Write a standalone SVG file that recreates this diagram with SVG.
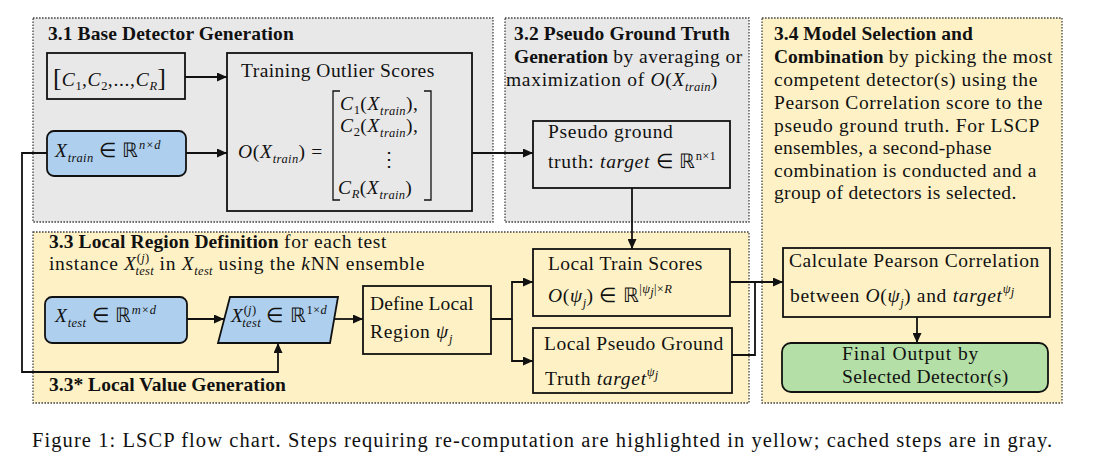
<svg xmlns="http://www.w3.org/2000/svg" width="1102" height="465" viewBox="0 0 1102 465" font-family="'Liberation Serif', 'Times New Roman', serif">
<style>
text{font-family:'Liberation Serif','Times New Roman',serif;font-size:19.5px;letter-spacing:0.7px;fill:#111}
.b{font-weight:bold;letter-spacing:0.2px}
.i{font-style:italic}
.s{font-size:12.5px;font-style:italic;letter-spacing:0.3px}
.sn{font-size:12.5px;letter-spacing:0.3px}
.grp{stroke:#444;stroke-width:1.3;stroke-dasharray:1.6 1.4}
.gray{fill:#e8e8e8}
.yel{fill:#fef1c6}
.node{stroke:#111;stroke-width:1.8}
.blue{fill:#aed0ee}
.green{fill:#b4dfa6}
.conn{fill:none;stroke:#111;stroke-width:1.8}
.brk{fill:none;stroke:#111;stroke-width:1.3}
.cap{font-size:20.5px;letter-spacing:0px}
</style>
<defs>
<marker id="arr" markerUnits="userSpaceOnUse" markerWidth="11" markerHeight="9" refX="10" refY="4.5" orient="auto">
<path d="M0,0 L10,4.5 L0,9 z" fill="#111"/>
</marker>
</defs>
<rect width="1102" height="465" fill="#ffffff"/>

<g id="regions">
<rect id="r31" class="grp gray" x="33" y="18" width="460" height="204"/>
<rect id="r32" class="grp gray" x="505" y="18" width="244" height="204"/>
<rect id="r34" class="grp yel" x="762" y="18" width="300" height="385"/>
<rect id="r33" class="grp yel" x="33" y="232" width="716" height="171"/>
</g>

<g id="region-labels">
<text x="48" y="40" class="b" textLength="246">3.1 Base Detector Generation</text>
<text x="514" y="40" class="b" textLength="216">3.2 Pseudo Ground Truth</text>
<text x="514" y="63" textLength="229"><tspan class="b">Generation</tspan> by averaging or</text>
<text x="506" y="86">maximization of <tspan class="i">O</tspan>(<tspan class="i">X</tspan><tspan class="s" dy="5">train</tspan><tspan dy="-5">)</tspan></text>
<text x="774" y="40" class="b" textLength="199">3.4 Model Selection and</text>
<text x="774" y="63" textLength="279"><tspan class="b">Combination</tspan> by picking the most</text>
<text x="774" y="86" textLength="264">competent detector(s) using the</text>
<text x="774" y="109" textLength="269">Pearson Correlation score to the</text>
<text x="774" y="132" textLength="266">pseudo ground truth. For LSCP</text>
<text x="774" y="154" textLength="218">ensembles, a second-phase</text>
<text x="774" y="177" textLength="263">combination is conducted and a</text>
<text x="774" y="199" textLength="243">group of detectors is selected.</text>
<text x="49" y="248" textLength="338"><tspan class="b">3.3 Local Region Definition</tspan> for each test</text>
<text x="49" y="270">instance <tspan class="i">X</tspan><tspan class="sn" dy="-8">(<tspan class="i">j</tspan>)</tspan><tspan class="s" dx="-14" dy="13">test</tspan><tspan dy="-5"> in </tspan><tspan class="i">X</tspan><tspan class="s" dy="5">test</tspan><tspan dy="-5"> using the </tspan><tspan class="i">k</tspan>NN ensemble</text>
<text x="49" y="391" class="b" textLength="237">3.3* Local Value Generation</text>
</g>

<g id="connectors">
<path class="conn" d="M185,77 H227" marker-end="url(#arr)"/>
<path class="conn" d="M186,153 H227" marker-end="url(#arr)"/>
<path class="conn" d="M472,153 H533" marker-end="url(#arr)"/>
<path class="conn" d="M632,188 V249" marker-end="url(#arr)"/>
<path class="conn" d="M47,153 H22 V372 H278 V343" marker-end="url(#arr)"/>
<path class="conn" d="M187,319 H224" marker-end="url(#arr)"/>
<path class="conn" d="M334,319 H363" marker-end="url(#arr)"/>
<path class="conn" d="M491,319 H512 V282 H533" marker-end="url(#arr)"/>
<path class="conn" d="M512,319 V361 H533" marker-end="url(#arr)"/>
<path class="conn" d="M730,282 H783" marker-end="url(#arr)"/>
<path class="conn" d="M732,355 H755 V282"/>
<path class="conn" d="M917,317 V343" marker-end="url(#arr)"/>
</g>

<g id="n-classifiers">
<rect class="node gray" x="47" y="53" width="138" height="46"/>
<text x="53" y="86"><tspan font-size="26" letter-spacing="0">[</tspan><tspan class="i">C</tspan><tspan class="sn" dy="4">1</tspan><tspan dy="-4">,</tspan><tspan class="i">C</tspan><tspan class="sn" dy="4">2</tspan><tspan dy="-4">,...,</tspan><tspan class="i">C</tspan><tspan class="s" dy="4">R</tspan><tspan dy="-4" font-size="26" letter-spacing="0">]</tspan></text>
</g>

<g id="n-xtrain">
<rect class="node blue" x="47" y="131" width="139" height="45" rx="7"/>
<text x="55" y="157"><tspan class="i">X</tspan><tspan class="s" dy="5">train</tspan><tspan dy="-5"> ∈ ℝ</tspan><tspan class="s" dy="-8">n×d</tspan></text>
</g>

<g id="n-training">
<rect class="node gray" x="227" y="53" width="245" height="158"/>
<text x="241" y="77" textLength="194">Training Outlier Scores</text>
<text x="238" y="158"><tspan class="i">O</tspan>(<tspan class="i">X</tspan><tspan class="s" dy="5">train</tspan><tspan dy="-5">) =</tspan></text>
<path class="brk" d="M340,91 H333 V200 H340 M424,91 H431 V200 H424"/>
<text x="340" y="110"><tspan class="i">C</tspan><tspan class="sn" dy="4">1</tspan><tspan dy="-4">(</tspan><tspan class="i">X</tspan><tspan class="s" dy="5">train</tspan><tspan dy="-5">),</tspan></text>
<text x="340" y="132"><tspan class="i">C</tspan><tspan class="sn" dy="4">2</tspan><tspan dy="-4">(</tspan><tspan class="i">X</tspan><tspan class="s" dy="5">train</tspan><tspan dy="-5">),</tspan></text>
<text x="379" y="166" font-size="16">⋮</text>
<text x="338" y="194"><tspan class="i">C</tspan><tspan class="s" dy="4">R</tspan><tspan dy="-4">(</tspan><tspan class="i">X</tspan><tspan class="s" dy="5">train</tspan><tspan dy="-5">)</tspan></text>
</g>

<g id="n-pseudo">
<rect class="node gray" x="533" y="121" width="197" height="67"/>
<text x="548" y="138">Pseudo ground</text>
<text x="548" y="168">truth: <tspan class="i">target</tspan> ∈ ℝ<tspan class="sn" dy="-8">n×1</tspan></text>
</g>

<g id="n-xtest">
<rect class="node blue" x="45" y="297" width="142" height="46" rx="7"/>
<text x="55" y="322"><tspan class="i">X</tspan><tspan class="s" dy="5">test</tspan><tspan dy="-5"> ∈ ℝ</tspan><tspan class="s" dy="-8">m×d</tspan></text>
</g>

<g id="n-xtestj">
<polygon class="node blue" points="230,297 338,297 330,343 218,343"/>
<text x="231" y="322"><tspan class="i">X</tspan><tspan class="sn" dy="-8">(<tspan class="i">j</tspan>)</tspan><tspan class="s" dx="-14" dy="13">test</tspan><tspan dy="-5"> ∈ ℝ</tspan><tspan class="sn" dy="-8">1×<tspan class="i">d</tspan></tspan></text>
</g>

<g id="n-define">
<rect class="node yel" x="363" y="286" width="128" height="68"/>
<text x="370" y="310" textLength="104">Define Local</text>
<text x="370" y="338">Region  <tspan class="i">ψ</tspan><tspan class="s" dy="5">j</tspan></text>
</g>

<g id="n-localtrain">
<rect class="node yel" x="533" y="249" width="197" height="67"/>
<text x="548" y="270" textLength="155">Local Train Scores</text>
<text x="548" y="302"><tspan class="i">O</tspan>(<tspan class="i">ψ</tspan><tspan class="s" dy="5">j</tspan><tspan dy="-5">) ∈ ℝ</tspan><tspan class="sn" dy="-9">|<tspan class="i">ψ</tspan><tspan class="s" dy="3">j</tspan><tspan dy="-3">|×</tspan><tspan class="i">R</tspan></tspan></text>
</g>

<g id="n-localpseudo">
<rect class="node yel" x="533" y="328" width="199" height="65"/>
<text x="544" y="350" textLength="180">Local Pseudo Ground</text>
<text x="545" y="385">Truth <tspan class="i">target</tspan><tspan class="s" dy="-9">ψ</tspan><tspan class="s" font-size="9" dy="3">j</tspan></text>
</g>

<g id="n-calc">
<rect class="node yel" x="783" y="248" width="267" height="69"/>
<text x="789" y="267" textLength="251">Calculate Pearson Correlation</text>
<text x="790" y="302">between <tspan class="i">O</tspan>(<tspan class="i">ψ</tspan><tspan class="s" dy="5">j</tspan><tspan dy="-5">) and </tspan><tspan class="i">target</tspan><tspan class="s" dy="-9">ψ</tspan><tspan class="s" font-size="9" dy="3">j</tspan></text>
</g>

<g id="n-final">
<rect class="node green" x="782" y="343" width="266" height="49" rx="9"/>
<text x="842" y="360" textLength="137">Final Output by</text>
<text x="842" y="383" textLength="167">Selected Detector(s)</text>
</g>

<text class="cap" x="32" y="447" textLength="1020">Figure 1: LSCP flow chart. Steps requiring re-computation are highlighted in yellow; cached steps are in gray.</text>
</svg>
